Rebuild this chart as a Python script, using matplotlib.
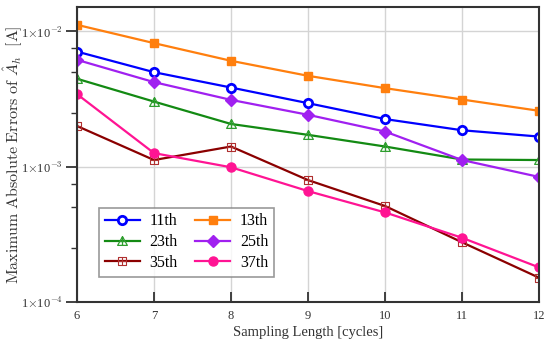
import numpy as np
import matplotlib
matplotlib.use("Agg")
import matplotlib.pyplot as plt
from matplotlib.path import Path
from matplotlib.ticker import FixedLocator, FuncFormatter, NullFormatter

plt.rcParams['font.family'] = ['Liberation Serif', 'DejaVu Serif']
plt.rcParams['mathtext.fontset'] = 'cm'

# data
cycles = [6, 7, 8, 9, 10, 11, 12]
h11 = [7.1e-3, 5.0e-3, 3.85e-3, 2.95e-3, 2.25e-3, 1.86e-3, 1.67e-3]
h13 = [1.12e-2, 8.2e-3, 6.07e-3, 4.7e-3, 3.81e-3, 3.14e-3, 2.59e-3]
h23 = [4.47e-3, 3.03e-3, 2.07e-3, 1.72e-3, 1.41e-3, 1.13e-3, 1.12e-3]
h25 = [6.17e-3, 4.22e-3, 3.12e-3, 2.42e-3, 1.82e-3, 1.12e-3, 8.4e-4]
h35 = [2.0e-3, 1.12e-3, 1.41e-3, 7.96e-4, 5.12e-4, 2.76e-4, 1.51e-4]
h37 = [3.44e-3, 1.26e-3, 9.9e-4, 6.6e-4, 4.59e-4, 2.98e-4, 1.80e-4]
labels = ['11th', '13th', '23th', '25th', '35th', '37th']

# square with a cross inside, triangle with a cross inside
sq_cross = Path([(-1, -1), (1, -1), (1, 1), (-1, 1), (-1, -1),
                 (-1, 0), (1, 0), (0, -1), (0, 1)],
                [Path.MOVETO, Path.LINETO, Path.LINETO, Path.LINETO, Path.CLOSEPOLY,
                 Path.MOVETO, Path.LINETO, Path.MOVETO, Path.LINETO])
tri_cross = Path([(0, 1), (-1, -0.8), (1, -0.8), (0, 1),
                  (0, 1), (0, -0.8), (-0.5, 0), (0.5, 0)],
                 [Path.MOVETO, Path.LINETO, Path.LINETO, Path.CLOSEPOLY,
                  Path.MOVETO, Path.LINETO, Path.MOVETO, Path.LINETO])

fig = plt.figure(figsize=(5.5, 3.47), dpi=100)
ax = fig.add_axes([0.14, 0.13, 0.84, 0.849])

lw = 1.6
l11, = ax.plot(cycles, h11, color='#0000ff', lw=lw, marker='o', ms=6, mfc='white', mec='#0000ff', mew=2, label=labels[0])
l13, = ax.plot(cycles, h13, color='#ff7f0e', lw=lw, marker='s', ms=6, label=labels[1])
l23, = ax.plot(cycles, h23, color='#138a13', lw=lw, marker=tri_cross, ms=7, mfc='none', mec='#2e9e2e', mew=0.9, label=labels[2])
l25, = ax.plot(cycles, h25, color='#a020f0', lw=lw, marker='D', ms=6, label=labels[3])
l35, = ax.plot(cycles, h35, color='#8b0000', lw=lw, marker=sq_cross, ms=6, mfc='none', mec='#b03030', mew=0.8, label=labels[4])
l37, = ax.plot(cycles, h37, color='#ff1493', lw=lw, marker='o', ms=6.5, label=labels[5])

ax.set_yscale('log')
ax.set_xlim(6, 12)
ax.set_ylim(1e-4, 1.51e-2)

ax.yaxis.set_major_locator(FixedLocator([1e-4, 1e-3, 1e-2]))
ax.yaxis.set_major_formatter(FuncFormatter(
    lambda v, p: r'1$\times$10$^{%d}$' % int(round(np.log10(v)))))
ax.yaxis.set_minor_locator(FixedLocator([2.5e-4, 5e-4, 7.5e-4, 2.5e-3, 5e-3, 7.5e-3]))
ax.yaxis.set_minor_formatter(NullFormatter())
ax.set_xticks(cycles)

ax.tick_params(axis='y', which='major', direction='out', length=8, width=1.3, labelsize=9, colors='#333333', pad=2)
ax.tick_params(axis='y', which='minor', direction='out', length=4, width=1, colors='#333333')
ax.tick_params(axis='x', which='major', direction='in', length=7, width=1.3, labelsize=9, colors='#333333', pad=6)

ax.grid(True, which='major', color='#d4d4d4', lw=1)
ax.set_axisbelow(True)
for s in ax.spines.values():
    s.set_color('#333333')
    s.set_linewidth(1.5)

ax.set_xlabel('Sampling Length [cycles]', fontsize=10.5, color='#333333', labelpad=3)
ax.set_ylabel(r'$\mathrm{Maximum\ Absolute\ Errors\ of}\ \hat{A}_h\ \ [\mathrm{A}]$',
              fontsize=11.5, color='#333333')
ax.yaxis.set_label_coords(-0.112, 0.5)

# row-wise legend order like the original
handles = [l11, l23, l35, l13, l25, l37]
leg = ax.legend(handles, [h.get_label() for h in handles], loc='lower left',
                bbox_to_anchor=(0.048, 0.086), ncol=2, fontsize=11.5,
                frameon=True, fancybox=False, edgecolor='#808080', handlelength=2.2,
                columnspacing=1.1, labelspacing=0.3, borderpad=0.35, handletextpad=0.6,
                borderaxespad=0)
leg.get_frame().set_linewidth(1.2)

fig.savefig('out.png', dpi=100)
